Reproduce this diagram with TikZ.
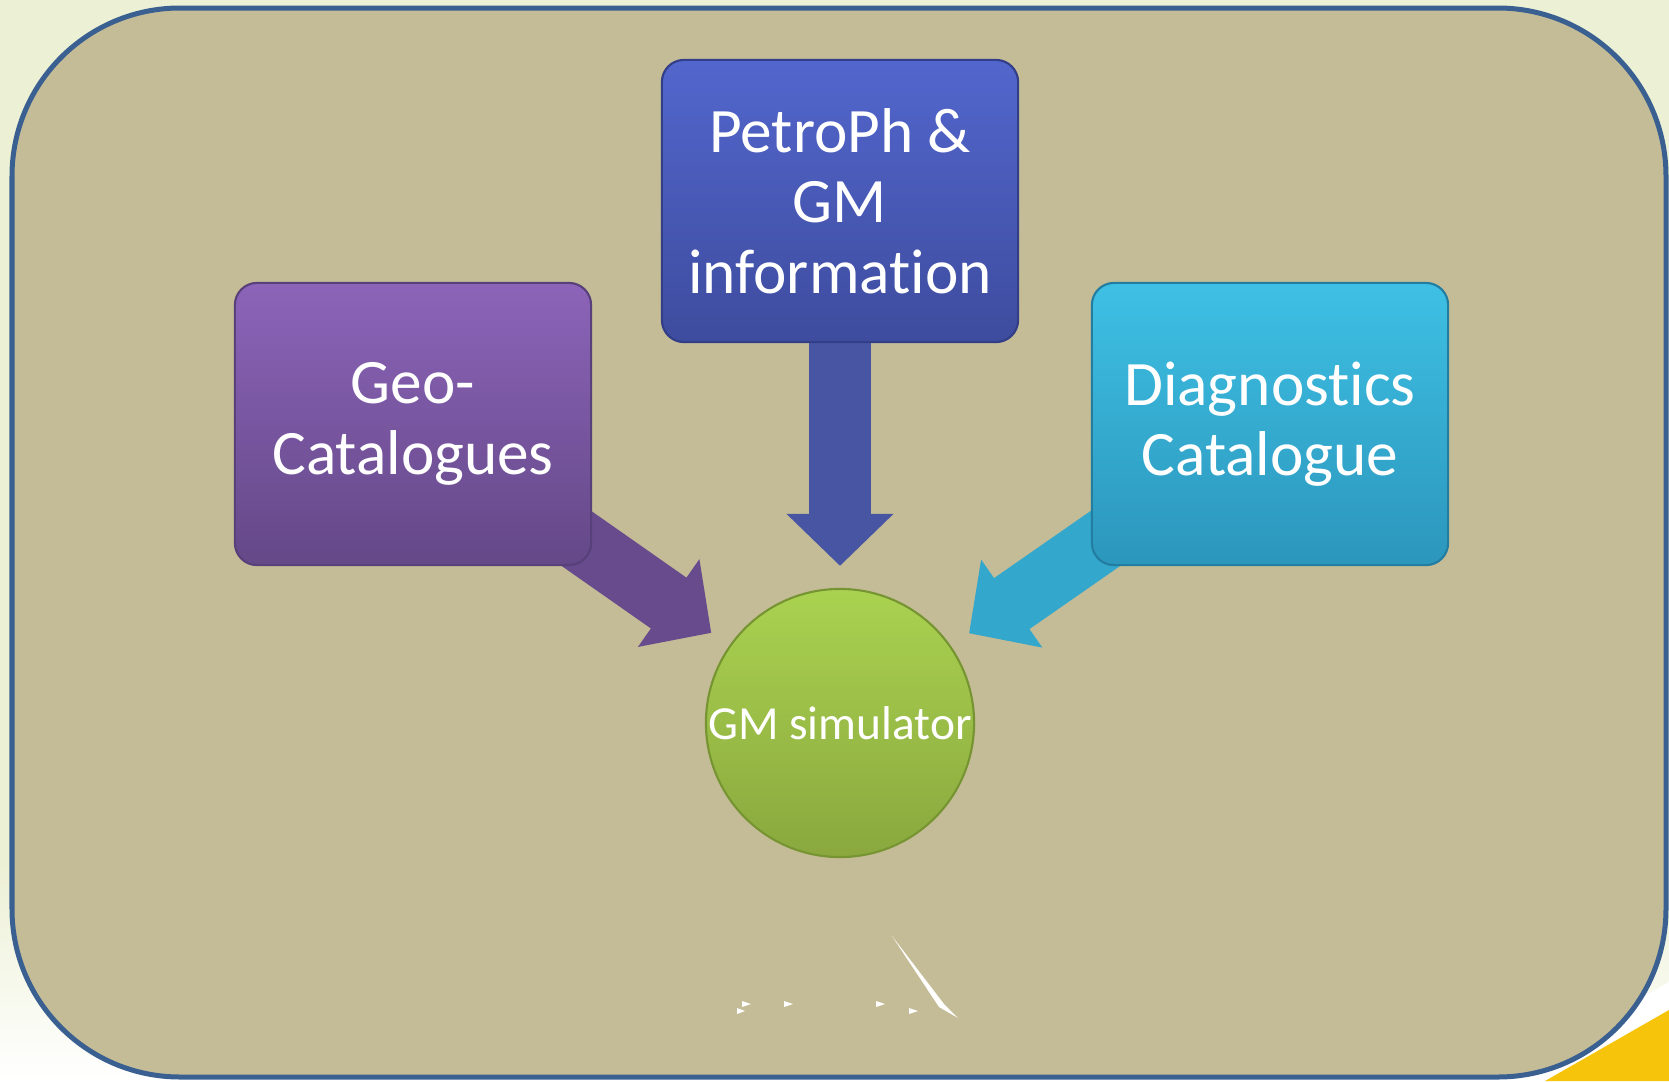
\documentclass[tikz,border=0pt]{standalone}
\usepackage{fontspec}
\setmainfont{Carlito}[Ligatures=NoCommon]
\usetikzlibrary{positioning,arrows.meta}
\pgfdeclarelayer{back}
\pgfdeclarelayer{feeds}
\pgfsetlayers{back,feeds,main}
\definecolor{bgcream}{RGB}{236,240,212}
\definecolor{panel}{RGB}{196,188,150}
\definecolor{panelline}{RGB}{58,96,145}
\definecolor{swoosh}{RGB}{246,196,10}
\definecolor{geotop}{RGB}{140,100,185}
\definecolor{geobot}{RGB}{100,72,135}
\definecolor{geoline}{RGB}{88,64,122}
\definecolor{petrotop}{RGB}{82,102,205}
\definecolor{petrobot}{RGB}{62,76,158}
\definecolor{petroline}{RGB}{50,62,135}
\definecolor{diagtop}{RGB}{62,192,228}
\definecolor{diagbot}{RGB}{44,150,188}
\definecolor{diagline}{RGB}{35,125,160}
\definecolor{simtop}{RGB}{170,210,80}
\definecolor{simbot}{RGB}{138,168,62}
\definecolor{simline}{RGB}{118,148,50}

\begin{document}
\begin{tikzpicture}[x=0.01cm,y=-0.01cm,
  catbox/.style={rounded corners=0.22cm,minimum width=3.56cm,minimum height=2.82cm,
    align=center,text=white,line width=0.6pt,font=\fontsize{18}{20}\selectfont},
  feed/.style={line width=0.62cm,-{Triangle[width=1.04cm,length=0.52cm]},shorten >=0.22cm}]
\useasboundingbox (0,0) rectangle (1669,1081);
% nodes
\node[catbox,top color=geotop,bottom color=geobot,draw=geoline] (geo) at (413,424) {Geo-\\Catalogues};
\node[catbox,top color=petrotop,bottom color=petrobot,draw=petroline] (petro) at (840,201) {PetroPh \&\\GM\\information};
\node[catbox,top color=diagtop,bottom color=diagbot,draw=diagline] (diag) at (1270,424) {Diagnostics\\Catalogue};
\node[circle,minimum size=2.68cm,inner sep=0pt,top color=simtop,bottom color=simbot,draw=simline,
  line width=0.6pt,text=white,font=\fontsize{13.5}{15}\selectfont] (sim) at (840,723) {GM simulator};
% arrows into the simulator
\begin{pgfonlayer}{feeds}
\draw[feed,color=petrobot!95!white] (petro.center) -- (sim);
\draw[feed,color=geobot!90!geotop] (geo.center) -- (sim);
\draw[feed,color=diagbot!60!diagtop] (diag.center) -- (sim);
\end{pgfonlayer}
% panel and page
\begin{pgfonlayer}{back}
\fill[bgcream] (0,0) rectangle (1669,1081);
\shade[top color=bgcream,bottom color=white] (0,860) rectangle (1669,1081);
\fill[white] (1495,1081) -- (1669,982) -- (1669,1081) -- cycle;
\fill[swoosh] (1545,1081) -- (1669,1010) -- (1669,1081) -- cycle;
\filldraw[fill=panel,draw=panelline,line width=0.05cm,rounded corners=1.68cm] (12,8) rectangle (1666,1077);
\end{pgfonlayer}
% white marks
\fill[white] (742,1001) -- (751,1004) -- (742,1007) -- cycle;
\fill[white] (737,1008) -- (745,1011) -- (737,1014) -- cycle;
\fill[white] (784,1001) -- (793,1004) -- (784,1007) -- cycle;
\fill[white] (876,1001) -- (885,1004) -- (876,1007) -- cycle;
\fill[white] (909,1008) -- (918,1011) -- (909,1014) -- cycle;
\fill[white] (892,936) -- (944,1004) -- (958,1018) -- (939,1007) -- cycle;
\end{tikzpicture}
\end{document}
